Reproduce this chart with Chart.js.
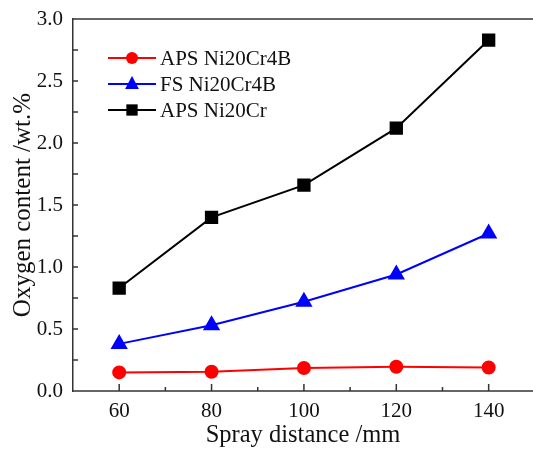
<!DOCTYPE html>
<html>
<head>
<meta charset="utf-8">
<script src="https://cdn.jsdelivr.net/npm/chart.js"></script>
<style>
  html, body { margin: 0; padding: 0; background: #fff; overflow: hidden; }
  #wrap { width: 533px; height: 450px; }
</style>
</head>
<body>
<div id="wrap"><canvas id="chart" width="533" height="450"></canvas></div>
<script>
const distances = [60, 80, 100, 120, 140];
const apsNi20Cr4B = [0.15, 0.155, 0.185, 0.195, 0.19];
const fsNi20Cr4B = [0.38, 0.53, 0.72, 0.94, 1.27];
const apsNi20Cr = [0.83, 1.40, 1.66, 2.12, 2.83];
const seriesNames = ["APS Ni20Cr4B", "FS Ni20Cr4B", "APS Ni20Cr"];
const xTicks = [60, 80, 100, 120, 140];
const yTicks = [0, 0.5, 1.0, 1.5, 2.0, 2.5, 3.0];

const serif = "'Liberation Serif', 'Times New Roman', serif";
const axisColor = "#333";

const toPoints = arr => arr.map((v, i) => ({ x: distances[i], y: v }));

// marker drawing shared by the legend
function drawMarker(ctx, style, x, y, r, color) {
  ctx.save();
  ctx.fillStyle = color;
  ctx.beginPath();
  if (style === "circle") {
    ctx.arc(x, y, r, 0, Math.PI * 2);
  } else if (style === "triangle") {
    ctx.moveTo(x, y - r);
    ctx.lineTo(x + r * 0.866, y + r * 0.5 + 1);
    ctx.lineTo(x - r * 0.866, y + r * 0.5 + 1);
    ctx.closePath();
  } else {
    const s = r * Math.SQRT1_2;
    ctx.rect(x - s, y - s, 2 * s, 2 * s);
  }
  ctx.fill();
  ctx.restore();
}

const framePlugin = {
  id: "frame",
  afterDraw(chart) {
    const { ctx, chartArea, scales } = chart;
    const xs = scales.x, ys = scales.y;
    ctx.save();
    ctx.strokeStyle = axisColor;
    ctx.lineWidth = 1.5;
    // top line
    ctx.beginPath();
    ctx.moveTo(chartArea.left, chartArea.top);
    ctx.lineTo(chart.width, chartArea.top);
    ctx.stroke();
    // bottom line runs out to the edge too
    ctx.beginPath();
    ctx.moveTo(chartArea.left, chartArea.bottom);
    ctx.lineTo(chart.width, chartArea.bottom);
    ctx.stroke();
    // x ticks (inward), major every 20, minor in between
    for (let v = 60; v <= 140; v += 10) {
      const px = xs.getPixelForValue(v);
      const len = v % 20 === 0 ? 7 : 4;
      ctx.beginPath();
      ctx.moveTo(px, chartArea.bottom);
      ctx.lineTo(px, chartArea.bottom - len);
      ctx.stroke();
    }
    // y ticks (inward)
    for (let i = 1; i < 12; i++) {
      const py = ys.getPixelForValue(i * 0.25);
      ctx.beginPath();
      ctx.moveTo(chartArea.left, py);
      ctx.lineTo(chartArea.left + 5, py);
      ctx.stroke();
    }
    ctx.restore();

    // legend
    const rows = [
      { style: "circle", color: "#ff0000", r: 6 },
      { style: "triangle", color: "#0000ff", r: 8 },
      { style: "rect", color: "#000000", r: 8 }
    ];
    ctx.save();
    ctx.font = "21px " + serif;
    ctx.textBaseline = "middle";
    rows.forEach((row, i) => {
      const y = 58 + i * 26;
      ctx.strokeStyle = row.color;
      ctx.lineWidth = 2;
      ctx.beginPath();
      ctx.moveTo(108, y);
      ctx.lineTo(156, y);
      ctx.stroke();
      drawMarker(ctx, row.style, 132, y, row.r, row.color);
      ctx.fillStyle = "#111";
      ctx.fillText(seriesNames[i], 160, y + 1);
    });
    ctx.restore();
  }
};

new Chart(document.getElementById("chart"), {
  type: "line",
  data: {
    datasets: [
      {
        label: seriesNames[0],
        data: toPoints(apsNi20Cr4B),
        borderColor: "#ff0000",
        backgroundColor: "#ff0000",
        pointStyle: "circle",
        pointRadius: 6,
        borderWidth: 2
      },
      {
        label: seriesNames[1],
        data: toPoints(fsNi20Cr4B),
        borderColor: "#0000ff",
        backgroundColor: "#0000ff",
        pointStyle: "triangle",
        pointRadius: 8,
        borderWidth: 2
      },
      {
        label: seriesNames[2],
        data: toPoints(apsNi20Cr),
        borderColor: "#000000",
        backgroundColor: "#000000",
        pointStyle: "rect",
        pointRadius: 8,
        borderWidth: 2
      }
    ]
  },
  options: {
    responsive: false,
    animation: false,
    layout: { autoPadding: false, padding: { left: 0, top: 19, right: 0, bottom: 0 } },
    elements: { point: { borderWidth: 0, hoverRadius: 8 } },
    plugins: {
      legend: { display: false },
      tooltip: { enabled: false }
    },
    scales: {
      x: {
        type: "linear",
        min: 50,
        max: 149.6,
        grid: { display: false, drawTicks: false },
        border: { display: false },
        afterBuildTicks: s => { s.ticks = xTicks.map(v => ({ value: v })); },
        ticks: {
          padding: 8,
          color: "#111",
          font: { family: serif, size: 21 },
          maxRotation: 0,
          autoSkip: false,
          callback: v => String(v)
        },
        title: {
          display: true,
          text: "Spray distance /mm",
          color: "#111",
          font: { family: serif, size: 24.5 },
          padding: { top: 0, bottom: 0 }
        },
        afterFit: s => { s.height = 59; s.paddingLeft = 0; s.paddingRight = 0; }
      },
      y: {
        min: 0,
        max: 3,
        grid: { display: false, drawTicks: false },
        border: { display: true, color: axisColor, width: 1.5 },
        afterBuildTicks: s => { s.ticks = yTicks.map(v => ({ value: v })); },
        ticks: {
          padding: 10,
          color: "#111",
          font: { family: serif, size: 21 },
          callback: v => v.toFixed(1)
        },
        title: {
          display: true,
          text: "Oxygen content /wt.%",
          color: "#111",
          font: { family: serif, size: 25 },
          padding: { top: 8, bottom: 8 }
        },
        afterFit: s => { s.width = 73; s.paddingTop = 0; s.paddingBottom = 0; }
      }
    }
  },
  plugins: [framePlugin]
});
</script>
</body>
</html>
